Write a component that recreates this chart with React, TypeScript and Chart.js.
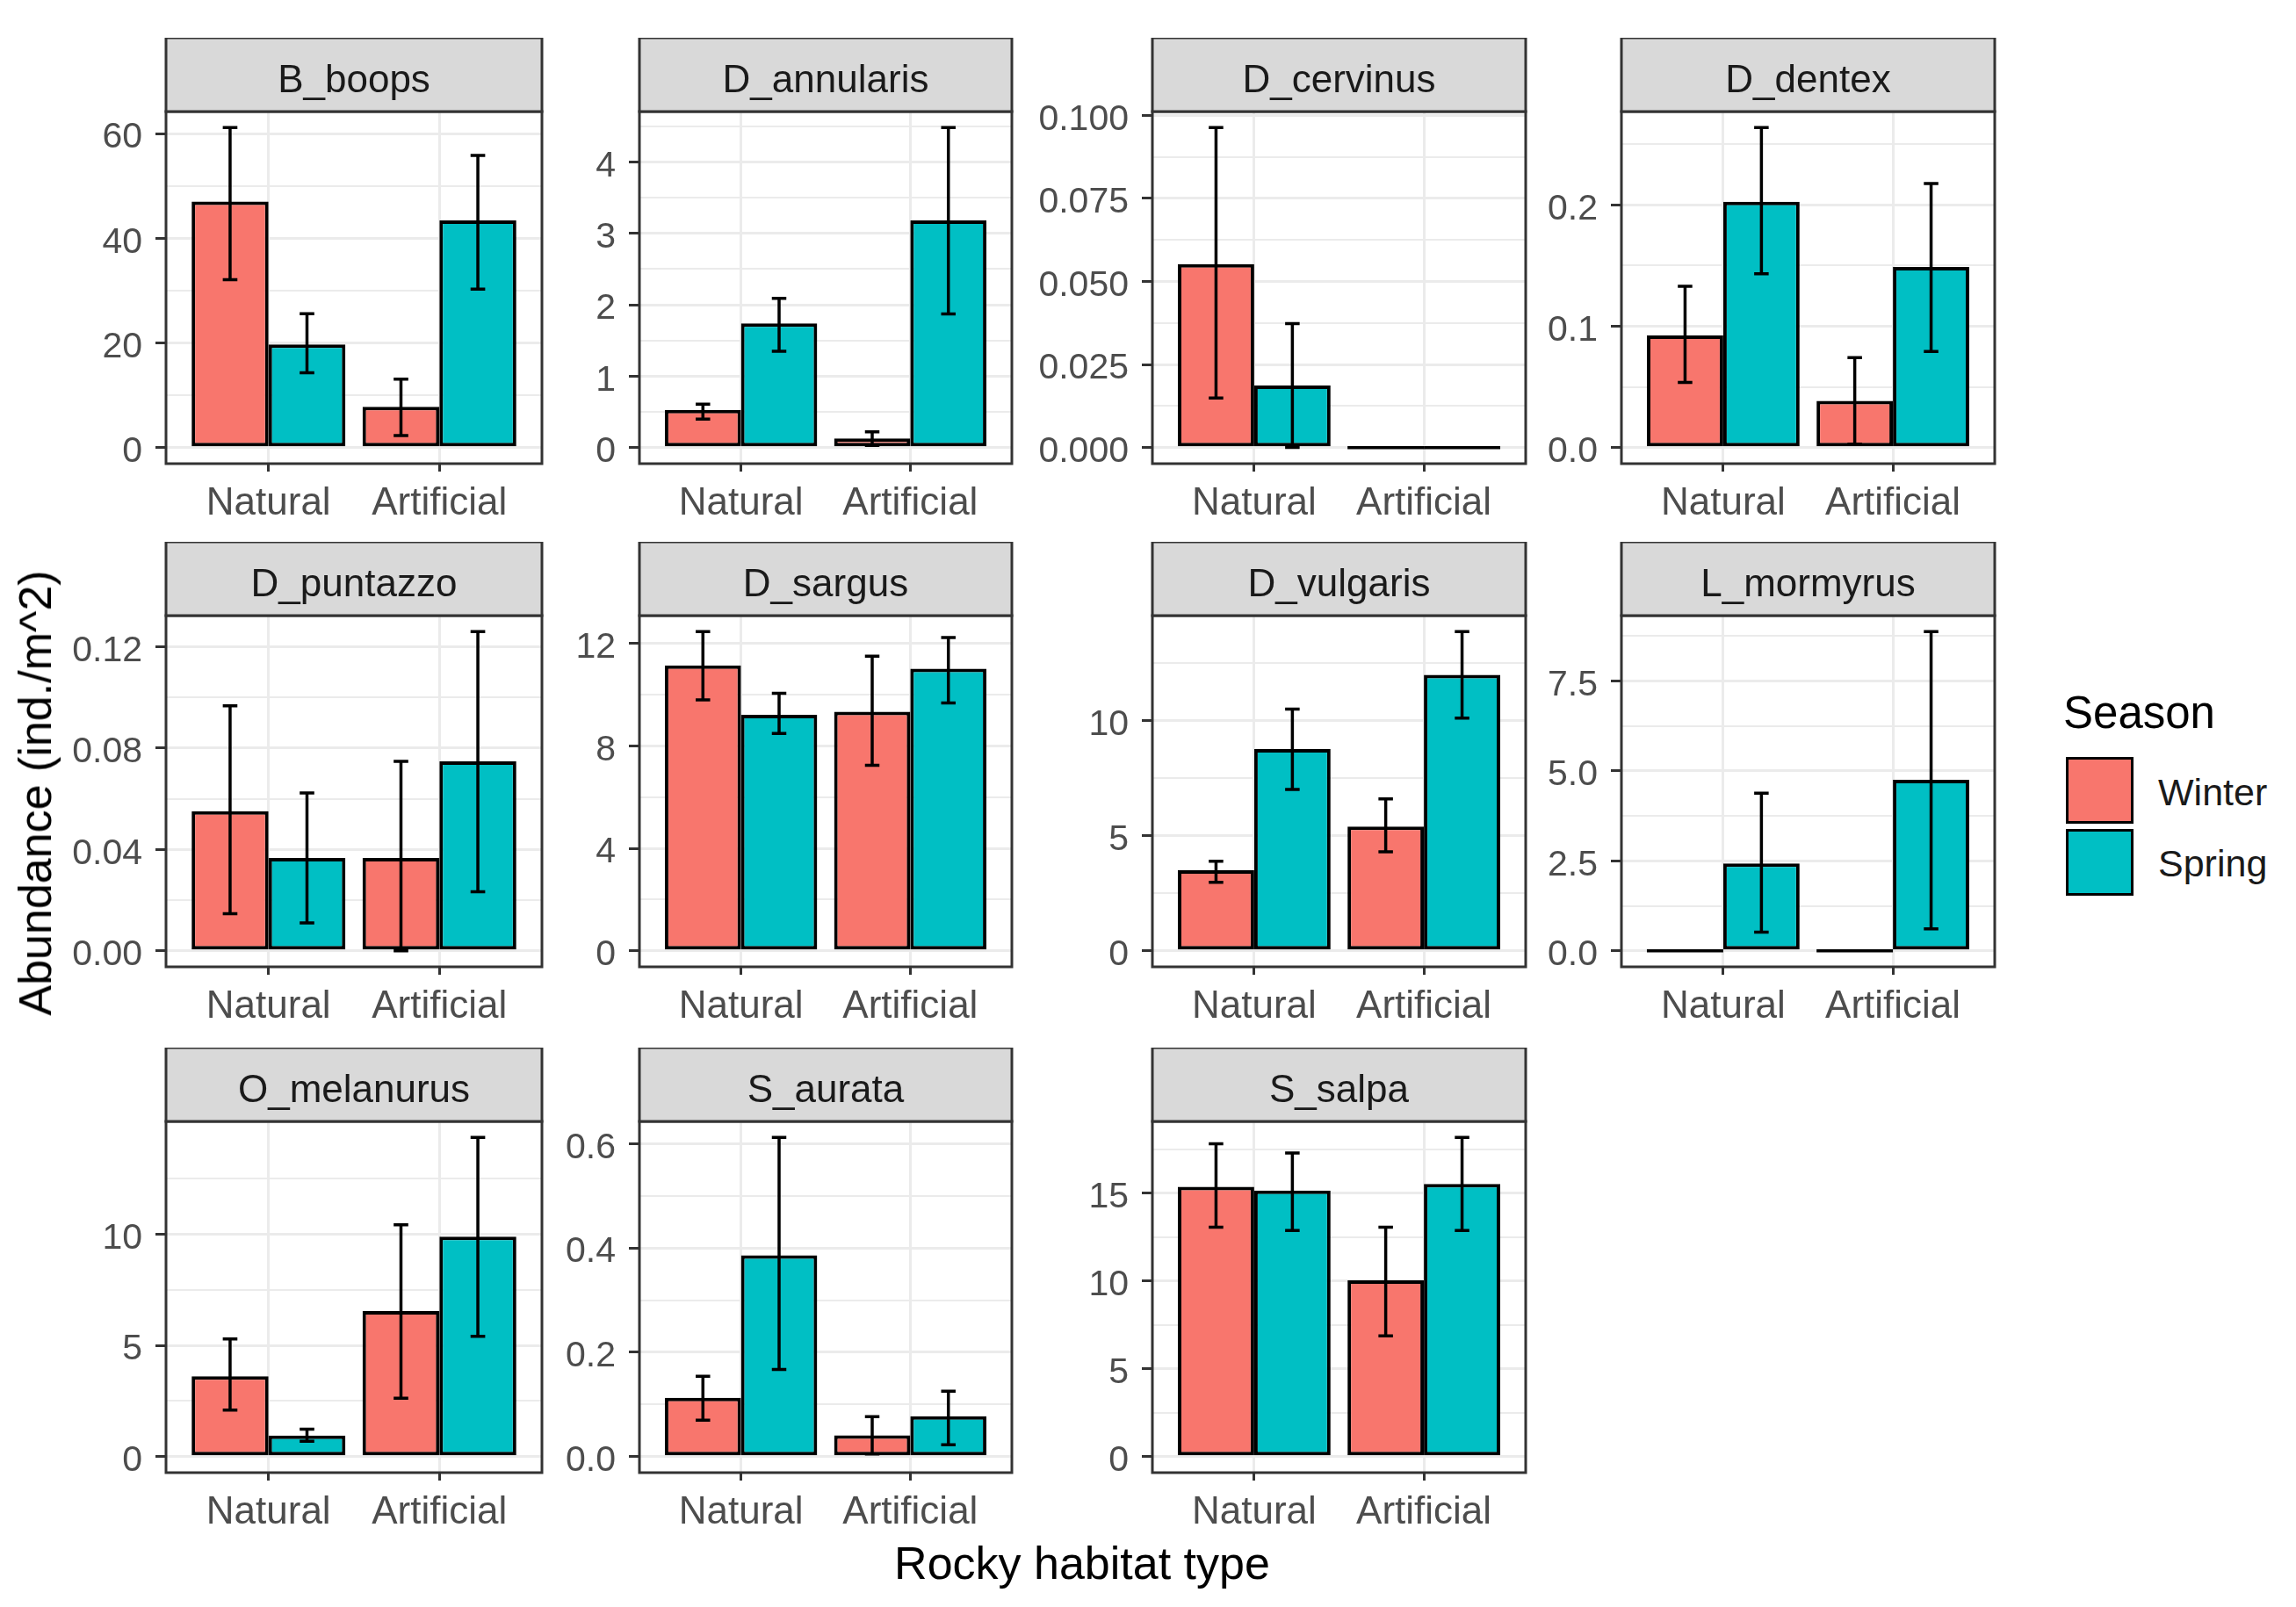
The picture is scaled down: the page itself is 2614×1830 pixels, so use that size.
import React, { useEffect, useRef } from 'react';
import { Chart, registerables } from 'chart.js';

Chart.register(...registerables);

// ---------- data ----------
const species = [
  'B_boops', 'D_annularis', 'D_cervinus', 'D_dentex',
  'D_puntazzo', 'D_sargus', 'D_vulgaris', 'L_mormyrus',
  'O_melanurus', 'S_aurata', 'S_salpa',
];
const habitats = ['Natural', 'Artificial'];
const seasons = ['Winter', 'Spring'];
const seasonColors = ['#F8766D', '#00BFC4'];

// each entry: [Natural, Artificial]
const winterMean = [
  [47.0, 7.8], [0.53, 0.13], [0.0552, 0], [0.0925, 0.0385],
  [0.0551, 0.0367], [11.15, 9.34], [3.5, 5.4], [0, 0],
  [3.61, 6.54], [0.113, 0.041], [15.37, 10.05],
];
const winterLow = [
  [32.1, 2.3], [0.4, 0.03], [0.0149, 0], [0.0537, 0.003],
  [0.0147, 0.0], [9.8, 7.25], [2.98, 4.31], [0, 0],
  [2.09, 2.63], [0.07, 0.005], [13.07, 6.88],
];
const winterHigh = [
  [61.15, 13.1], [0.61, 0.22], [0.0963, 0], [0.133, 0.0742],
  [0.0967, 0.0748], [12.47, 11.51], [3.9, 6.61], [0, 0],
  [5.29, 10.42], [0.154, 0.0767], [17.82, 13.07],
];
const springMean = [
  [19.7, 43.4], [1.74, 3.18], [0.0187, 0], [0.2025, 0.1488],
  [0.0367, 0.0748], [9.22, 11.02], [8.77, 12.0], [2.43, 4.75],
  [0.95, 9.89], [0.386, 0.0774], [15.16, 15.54],
];
const springLow = [
  [14.3, 30.3], [1.35, 1.87], [0.0001, 0], [0.1432, 0.0792],
  [0.011, 0.0233], [8.49, 9.68], [7.02, 10.12], [0.52, 0.61],
  [0.69, 5.41], [0.167, 0.023], [12.89, 12.89],
];
const springHigh = [
  [25.6, 55.8], [2.09, 4.48], [0.0373, 0], [0.2637, 0.2175],
  [0.0623, 0.126], [10.06, 12.24], [10.51, 13.88], [4.38, 8.87],
  [1.24, 14.35], [0.612, 0.1254], [17.3, 18.19],
];
const yTicks = [
  [0, 20, 40, 60], [0, 1, 2, 3, 4], [0, 0.025, 0.05, 0.075, 0.1], [0, 0.1, 0.2],
  [0, 0.04, 0.08, 0.12], [0, 4, 8, 12], [0, 5, 10], [0, 2.5, 5, 7.5],
  [0, 5, 10], [0, 0.2, 0.4, 0.6], [0, 5, 10, 15],
];
const yTickLabels = [
  ['0', '20', '40', '60'], ['0', '1', '2', '3', '4'],
  ['0.000', '0.025', '0.050', '0.075', '0.100'], ['0.0', '0.1', '0.2'],
  ['0.00', '0.04', '0.08', '0.12'], ['0', '4', '8', '12'], ['0', '5', '10'],
  ['0.0', '2.5', '5.0', '7.5'], ['0', '5', '10'], ['0.0', '0.2', '0.4', '0.6'],
  ['0', '5', '10', '15'],
];

// ---------- layout ----------
const colLeft = [189, 728, 1312, 1846];
const colRight = [617, 1152, 1737, 2271];
const stripTop = [43, 617, 1193];
const plotHeight = [401, 400, 400];
const STRIP_H = 84;
const AXIS_W = 180;
const XAXIS_H = 80;
const PAD_R = 6;
const FONT = '"Liberation Sans", Arial, Helvetica, sans-serif';
const LINE_W = 4;

Chart.defaults.font.family = FONT;

function Panel({ idx }: { idx: number }) {
  const ref = useRef<HTMLCanvasElement | null>(null);
  const row = Math.floor(idx / 4);
  const col = idx % 4;
  const plotW = colRight[col] - colLeft[col];
  const plotH = plotHeight[row];
  const W = AXIS_W + plotW + PAD_R;
  const H = STRIP_H + plotH + XAXIS_H;

  useEffect(() => {
    if (!ref.current) return;
    const means = [winterMean[idx], springMean[idx]];
    const lows = [winterLow[idx], springLow[idx]];
    const highs = [winterHigh[idx], springHigh[idx]];
    const top = Math.max(...highs.flat(), ...means.flat());
    const bottom = Math.min(0, ...lows.flat());
    const range = top - bottom;
    const yMin = bottom - 0.05 * range;
    const yMax = top + 0.05 * range;
    const majors = yTicks[idx];
    const labels = yTickLabels[idx];
    const step = majors[1] - majors[0];
    const tickObjs: any[] = majors.map((v) => ({ value: v, minor: false }));
    for (let k = -1; k <= majors.length; k++) {
      const v = majors[0] + (k + 0.5) * step;
      if (v > yMin && v < yMax) tickObjs.push({ value: v, minor: true });
    }
    tickObjs.sort((a, b) => a.value - b.value);

    const decor = {
      id: 'panelDecor',
      afterDatasetsDraw(chart: any) {
        const ctx = chart.ctx;
        const ys = chart.scales.y;
        ctx.save();
        ctx.strokeStyle = '#000000';
        ctx.lineWidth = LINE_W - 0.5;
        ctx.lineCap = 'butt';
        for (let si = 0; si < seasons.length; si++) {
          const meta = chart.getDatasetMeta(si);
          meta.data.forEach((el: any, hi: number) => {
            const w = el.width;
            const x = el.x;
            if (means[si][hi] === 0) {
              const y0 = ys.getPixelForValue(0);
              ctx.beginPath();
              ctx.moveTo(x - w / 2, y0);
              ctx.lineTo(x + w / 2, y0);
              ctx.stroke();
            }
            const lo = lows[si][hi];
            const hv = highs[si][hi];
            if (hv > lo) {
              const yT = ys.getPixelForValue(hv);
              const yB = ys.getPixelForValue(lo);
              const cap = w * 0.095;
              ctx.beginPath();
              ctx.moveTo(x, yT);
              ctx.lineTo(x, yB);
              ctx.moveTo(x - cap, yT);
              ctx.lineTo(x + cap, yT);
              ctx.moveTo(x - cap, yB);
              ctx.lineTo(x + cap, yB);
              ctx.stroke();
            }
          });
        }
        ctx.restore();
      },
      afterDraw(chart: any) {
        const ctx = chart.ctx;
        const { left, right, top: t, bottom: b } = chart.chartArea;
        ctx.save();
        ctx.lineWidth = 3;
        ctx.strokeStyle = '#333333';
        ctx.strokeRect(left, t, right - left, b - t);
        ctx.fillStyle = '#D9D9D9';
        ctx.fillRect(left, t - STRIP_H, right - left, STRIP_H);
        ctx.strokeRect(left, t - STRIP_H, right - left, STRIP_H);
        ctx.fillStyle = '#1A1A1A';
        ctx.font = `44px ${FONT}`;
        ctx.textAlign = 'center';
        ctx.textBaseline = 'alphabetic';
        ctx.fillText(species[idx], (left + right) / 2, t - STRIP_H + 62);
        ctx.restore();
      },
    };

    const chart = new Chart(ref.current, {
      type: 'bar',
      data: {
        datasets: seasons.map((s, si) => ({
          label: s,
          data: habitats.map((_h, hi) => ({ x: hi + 1, y: means[si][hi] })),
          backgroundColor: seasonColors[si],
          borderColor: '#000000',
          borderWidth: LINE_W,
          borderSkipped: false,
          categoryPercentage: 0.9,
          barPercentage: 1.0,
        })),
      } as any,
      options: {
        responsive: false,
        animation: false,
        devicePixelRatio: 1,
        events: [],
        layout: { padding: { top: STRIP_H, right: PAD_R, left: 0, bottom: 0 } },
        plugins: {
          legend: { display: false },
          tooltip: { enabled: false },
          title: { display: false },
        },
        scales: {
          x: {
            type: 'linear',
            min: 0.4,
            max: 2.6,
            offset: false,
            afterBuildTicks: (s: any) => {
              s.ticks = habitats.map((_h, i) => ({ value: i + 1 }));
            },
            afterFit: (s: any) => {
              s.height = XAXIS_H;
            },
            ticks: {
              autoSkip: false,
              maxRotation: 0,
              minRotation: 0,
              padding: 10,
              color: '#4D4D4D',
              font: { size: 44, family: FONT },
              callback: (v: any) => habitats[Math.round(Number(v)) - 1] ?? '',
            },
            grid: {
              offset: false,
              color: '#EBEBEB',
              lineWidth: 3,
              tickLength: 9,
              tickColor: '#333333',
              tickWidth: 3,
            },
            border: { display: false },
          },
          y: {
            type: 'linear',
            min: yMin,
            max: yMax,
            afterBuildTicks: (s: any) => {
              s.ticks = tickObjs.map((t) => ({ ...t }));
            },
            afterFit: (s: any) => {
              s.width = AXIS_W;
            },
            ticks: {
              autoSkip: false,
              padding: 15,
              labelOffset: 5,
              color: '#4D4D4D',
              font: { size: 41, family: FONT },
              callback: (v: any) => {
                const n = Number(v);
                const k = majors.findIndex((m) => Math.abs(m - n) < 1e-9);
                return k >= 0 ? labels[k] : '';
              },
            },
            grid: {
              offset: false,
              color: '#EBEBEB',
              lineWidth: (c: any) => (c.tick && c.tick.minor ? 2 : 3),
              tickLength: 12,
              tickColor: (c: any) => (c.tick && c.tick.minor ? 'rgba(0,0,0,0)' : '#333333'),
              tickWidth: 3,
            },
            border: { display: false },
          },
        },
      } as any,
      plugins: [decor as any],
    });
    return () => chart.destroy();
  }, [idx]);

  return (
    <canvas
      ref={ref}
      width={W}
      height={H}
      style={{
        position: 'absolute',
        left: colLeft[col] - AXIS_W,
        top: stripTop[row],
        width: W,
        height: H,
      }}
    />
  );
}

export default function App() {
  const text: React.CSSProperties = {
    position: 'absolute',
    whiteSpace: 'nowrap',
    lineHeight: 1,
    fontFamily: FONT,
    color: '#000000',
  };
  return (
    <div
      style={{
        position: 'absolute',
        left: 0,
        top: 0,
        width: 2614,
        height: 1830,
        background: '#FFFFFF',
        overflow: 'hidden',
      }}
    >
      {species.map((_s, i) => (
        <Panel key={i} idx={i} />
      ))}
      <div
        style={{
          ...text,
          fontSize: 52,
          left: 40,
          top: 903,
          transform: 'translate(-50%, -50%) rotate(-90deg)',
        }}
      >
        Abundance (ind./m^2)
      </div>
      <div
        style={{
          ...text,
          fontSize: 52,
          left: 1232,
          top: 1754,
          transform: 'translateX(-50%)',
        }}
      >
        Rocky habitat type
      </div>
      <div style={{ ...text, fontSize: 51, left: 2349, top: 786 }}>Season</div>
      {seasons.map((s, si) => (
        <React.Fragment key={s}>
          <div
            style={{
              position: 'absolute',
              left: 2352,
              top: si === 0 ? 862 : 944,
              width: 77,
              height: 76,
              boxSizing: 'border-box',
              border: '3.5px solid #000000',
              background: seasonColors[si],
            }}
          />
          <div
            style={{
              ...text,
              fontSize: 43,
              left: 2457,
              top: si === 0 ? 881 : 962,
              color: '#1A1A1A',
            }}
          >
            {s}
          </div>
        </React.Fragment>
      ))}
    </div>
  );
}
